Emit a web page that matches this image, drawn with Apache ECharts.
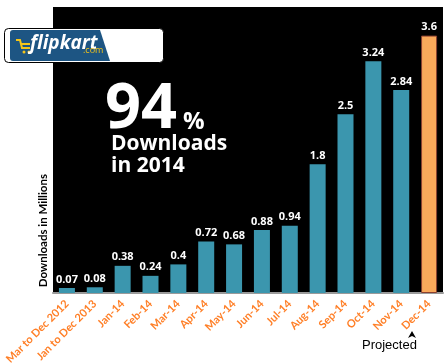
<!DOCTYPE html>
<html><head><meta charset="utf-8">
<script src="https://cdn.jsdelivr.net/npm/echarts@6/dist/echarts.min.js"></script>
<style>html,body{margin:0;padding:0;background:#fff}#c{width:448px;height:364px}</style>
</head><body><div id="c"></div>
<script>
var categories = ['Mar to Dec 2012','Jan to Dec 2013','Jan-14','Feb-14','Mar-14','Apr-14','May-14','Jun-14','Jul-14','Aug-14','Sep-14','Oct-14','Nov-14','Dec-14'];
var downloads = [0.07,0.08,0.38,0.24,0.4,0.72,0.68,0.88,0.94,1.8,2.5,3.24,2.84,3.6];
var projectedIndex = 13;

var chart = echarts.init(document.getElementById('c'), null, {renderer:'canvas'});
var fontF = '"Open Sans", "Noto Sans", sans-serif';
var seriesData = downloads.map(function(v,i){
  if(i===projectedIndex){
    return {value:v, itemStyle:{color:'#f9a95b', borderColor:'#8a4030', borderWidth:1}};
  }
  return v;
});
chart.setOption({
  animation:false,
  backgroundColor:'#fff',
  grid:{left:53,right:5,top:7,bottom:71,show:true,backgroundColor:'#000',borderWidth:0,containLabel:false,outerBoundsMode:'none'},
  xAxis:{
    type:'category', data:categories,
    axisLine:{lineStyle:{color:'#9a9a9a',width:2}},
    axisTick:{show:false},
    axisLabel:{rotate:45,interval:0,color:'#ff7f27',fontWeight:'bold',fontSize:11,fontFamily:'Lato, sans-serif',margin:9}
  },
  yAxis:{
    type:'value', min:0, max:4,
    axisLabel:{show:false}, splitLine:{show:false}, axisLine:{show:false}, axisTick:{show:false}
  },
  series:[{
    type:'bar', data:seriesData, barWidth:16,
    itemStyle:{color:'#3b96ae'},
    label:{show:true,position:'top',color:'#fff',fontWeight:'bold',fontSize:11,fontFamily:fontF,distance:3}
  }],
  graphic:[
    {type:'text',left:37,top:174,rotation:Math.PI/2,style:{text:'Downloads in Millions',fill:'#000',font:'bold 11.5px Lato, sans-serif'}},
    {type:'rect',shape:{x:4.5,y:28.5,width:159,height:34,r:4},style:{fill:'#fff',stroke:'#000',lineWidth:1}},
    {type:'polygon',shape:{points:[[13,30],[100,30],[110,61],[13,61]]},style:{fill:'#1d5583'}},
    {type:'rect',shape:{x:10,y:30,width:8,height:31,r:3},style:{fill:'#1d5583'}},
    {type:'polyline',shape:{points:[[16,40],[20,40],[22,48],[30,48]]},style:{stroke:'#f5c518',lineWidth:2,fill:null}},
    {type:'line',shape:{x1:21,y1:44,x2:30,y2:44},style:{stroke:'#f5c518',lineWidth:2}},
    {type:'circle',shape:{cx:24,cy:52,r:1.5},style:{fill:'#f5c518'}},
    {type:'circle',shape:{cx:29,cy:52,r:1.5},style:{fill:'#f5c518'}},
    {type:'text',left:30,top:34,style:{text:'flipkart',fill:'#fff',font:'italic bold 19px '+fontF}},
    {type:'text',left:83,top:46,style:{text:'.com',fill:'#f5c518',font:'9px '+fontF}},
    {type:'text',left:105,top:79,style:{text:'94',fill:'#fff',font:'bold 63px '+fontF}},
    {type:'text',left:183,top:110,style:{text:'%',fill:'#fff',font:'bold 24px '+fontF}},
    {type:'text',left:111,top:134,style:{text:'Downloads',fill:'#fff',font:'bold 21px '+fontF}},
    {type:'text',left:111,top:156,style:{text:'in 2014',fill:'#fff',font:'bold 21px '+fontF}},
    {type:'polygon',shape:{points:[[412,331],[416,338],[412,336],[408,338]]},style:{fill:'#000'}},
    {type:'text',left:362,top:339,style:{text:'Projected',fill:'#000',font:'13px "Liberation Sans", Arial, sans-serif'}}
  ]
});
</script></body></html>
